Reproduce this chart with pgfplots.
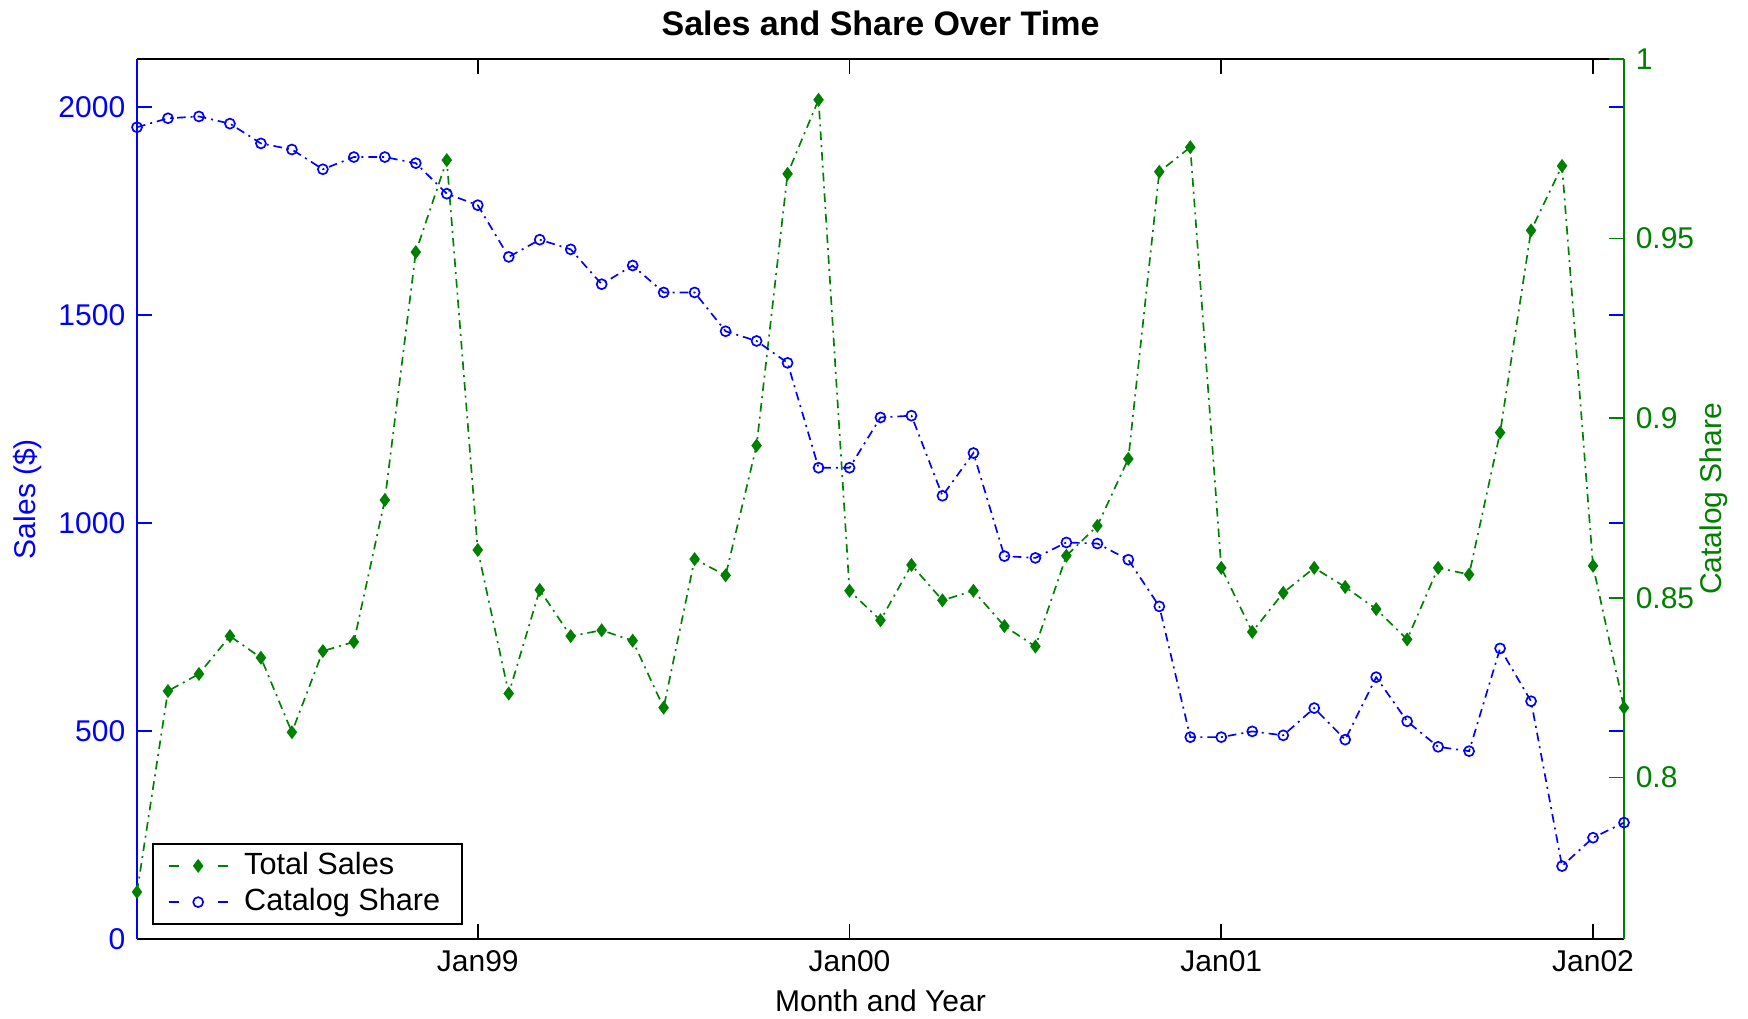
\documentclass[border=0pt]{standalone}
\usepackage{fontspec}
\setmainfont{Liberation Sans}
\usepackage{pgfplots}
\pgfplotsset{compat=1.18}
\definecolor{mgreen}{RGB}{0,128,0}
\definecolor{mblue}{RGB}{0,0,255}
\pgfplotsset{
  mlleg/.style={legend image code/.code={
    \draw[##1, dash pattern=on 3pt off 11.7pt on 3pt off 20pt, mark repeat=2, mark phase=2]
      plot coordinates {(0pt,0pt) (8.85pt,0pt) (17.7pt,0pt)};
  }},
  mlbase/.style={
    scale only axis, width=446.1pt, height=264pt,
    at={(0,0)}, anchor=south west,
    xmin=1, xmax=49, clip=false,
    tick align=inside, major tick length=4.5pt,
    tick label style={font=\fontsize{9}{10}\selectfont},
    label style={font=\fontsize{9}{10}\selectfont},
    /pgf/number format/assume math mode=true,
    /pgf/number format/1000 sep={},
    scaled y ticks=false,
  },
  dashdot/.style={line width=0.5pt, dash pattern=on 2.6pt off 1.5pt on 0.6pt off 1.5pt},
}
\begin{document}
\begin{tikzpicture}
\path[use as bounding box] (-41.1pt,-23.7pt) rectangle (483.3pt,281.7pt);
\begin{axis}[mlbase,
  ymin=0, ymax=2115,
  xtick={12,24,36,48}, xticklabels={Jan99,Jan00,Jan01,Jan02},
  ytick={0,500,1000,1500,2000},
  separate axis lines,
  x axis line style={black, line width=0.5pt},
  y axis line style={mblue, line width=0.5pt},
  xtick style={black, line width=0.5pt},
  ytick style={mblue, line width=0.5pt},
  y tick label style={text=mblue},
  xlabel={Month and Year},
  xlabel style={at={(axis description cs:0.5,0)}, yshift=-18.6pt, anchor=center},
  ylabel={Sales (\$)},
  ylabel style={text=mblue, at={(axis description cs:0,0.5)}, yshift=32.7pt, anchor=center},
  title={Sales and Share Over Time},
  every axis title/.style={at={(axis description cs:0.5,1)}, yshift=10.8pt, anchor=center,
    font=\bfseries\fontsize{10.2}{12}\selectfont},
]
\addplot[mgreen, dashdot, mark=diamond*, mark size=1.7pt, mark options={solid}] coordinates {
(1,113) (2,596) (3,637) (4,728) (5,676) (6,497) (7,692) (8,714) (9,1055) (10,1651)
(11,1872) (12,935) (13,590) (14,839) (15,728) (16,742) (17,717) (18,556) (19,913) (20,874)
(21,1186) (22,1839) (23,2017) (24,837) (25,766) (26,899) (27,814) (28,837) (29,752) (30,703)
(31,921) (32,993) (33,1154) (34,1844) (35,1903) (36,892) (37,738) (38,832) (39,892) (40,846)
(41,793) (42,720) (43,892) (44,876) (45,1217) (46,1703) (47,1858) (48,897) (49,556)
};
\end{axis}
\begin{axis}[mlbase,
  ymin=0.755, ymax=1,
  axis y line*=right, axis x line=none,
  ytick={0.8,0.85,0.9,0.95,1},
  yticklabels={0.8,0.85,0.9,0.95,1},
  y axis line style={mgreen, line width=0.5pt},
  ytick style={mgreen, line width=0.5pt},
  y tick label style={text=mgreen},
  ylabel={Catalog Share},
  ylabel style={text=mgreen, at={(axis description cs:1,0.5)}, yshift=-27pt, anchor=center},
  legend style={at={(0.0101,0.016)}, anchor=south west, draw=black, line width=0.5pt,
    font=\fontsize{9.2}{10}\selectfont, legend cell align=left,
    row sep=-1.3pt, column sep=2.7pt, inner xsep=4.5pt, inner ysep=0.5pt},
]
\addlegendimage{mgreen, line width=0.5pt, mark=diamond*, mark size=1.7pt, mark options={solid}, mlleg}
\addlegendentry{Total Sales}
\addplot[mblue, dashdot, mark=o, mark size=1.5pt, mark options={solid}, mlleg] coordinates {
(1,0.981) (2,0.9835) (3,0.984) (4,0.982) (5,0.9765) (6,0.9748) (7,0.9693) (8,0.9727) (9,0.9727) (10,0.971)
(11,0.9625) (12,0.9593) (13,0.9449) (14,0.9497) (15,0.947) (16,0.9373) (17,0.9425) (18,0.935) (19,0.935) (20,0.9242)
(21,0.9215) (22,0.9154) (23,0.8862) (24,0.8862) (25,0.9002) (26,0.9007) (27,0.8784) (28,0.8903) (29,0.8616) (30,0.8611)
(31,0.8654) (32,0.8651) (33,0.8606) (34,0.8476) (35,0.8112) (36,0.8112) (37,0.8128) (38,0.8117) (39,0.8193) (40,0.8105)
(41,0.8279) (42,0.8156) (43,0.8085) (44,0.8073) (45,0.8359) (46,0.8212) (47,0.7753) (48,0.7832) (49,0.7874)
};
\addlegendentry{Catalog Share\hspace{1pt}}
\end{axis}
\end{tikzpicture}
\end{document}
